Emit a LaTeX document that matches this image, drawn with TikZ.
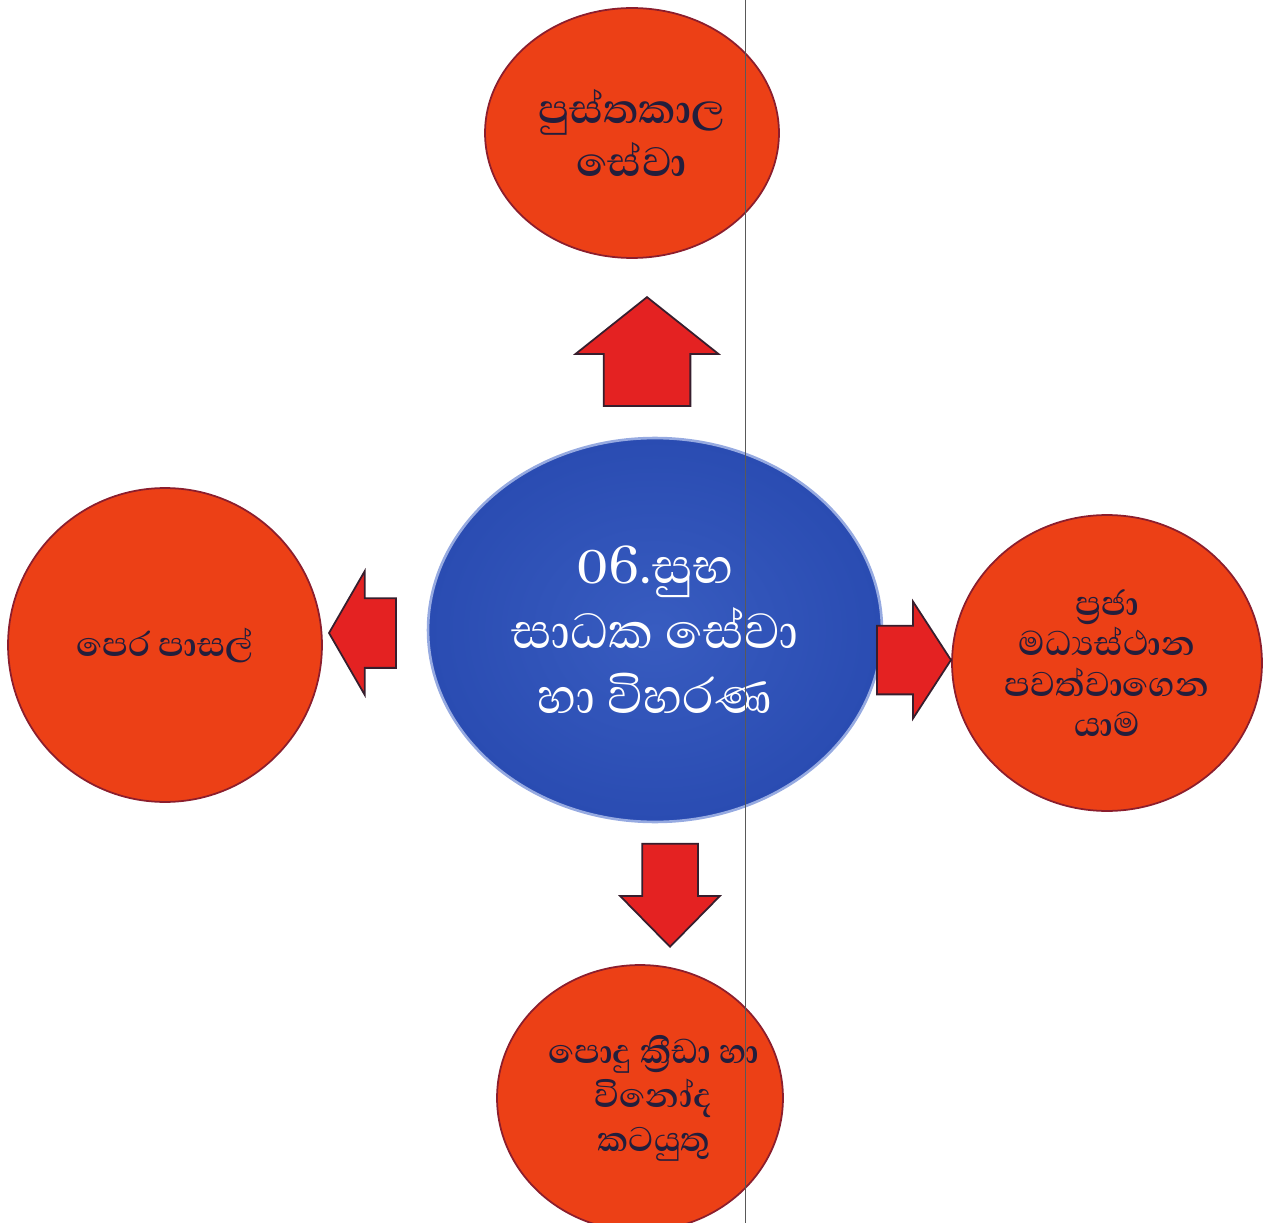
\documentclass[tikz,border=0pt]{standalone}
\usepackage{fontspec}
\usepackage{xcolor}
\usepackage{tikz}
\usetikzlibrary{shapes.geometric,shapes.arrows}
\newfontfamily\sinfont[Script=Sinhala]{Abhaya Libre}
\definecolor{circred}{RGB}{236,64,22}
\definecolor{circedge}{RGB}{140,30,45}
\definecolor{arrred}{RGB}{228,34,34}
\definecolor{arredge}{RGB}{55,30,45}
\definecolor{ballblue}{RGB}{42,76,178}
\definecolor{balllight}{RGB}{56,92,192}
\definecolor{ballrim}{RGB}{150,170,225}
\definecolor{inkdark}{RGB}{35,30,60}
\tikzset{
    redcirc/.style={ellipse, draw=circedge, line width=1pt, fill=circred, inner sep=0pt},
    circtext/.style={align=center, text=inkdark, inner sep=0pt},
    blockarrow/.style={single arrow, draw=arredge, line width=1pt, fill=arrred,
        inner sep=0pt, single arrow head indent=0pt}
}
\begin{document}
\begin{tikzpicture}[x=0.02cm, y=-0.02cm]
    \useasboundingbox (0,0) rectangle (1265,1223);

    %BULATAN TENGAH
    \node[ellipse, minimum width=9.08cm, minimum height=7.68cm, inner sep=0pt,
        inner color=balllight, outer color=ballblue, draw=ballrim, line width=1.5pt]
        (center) at (655,630) {};
    \node[align=center, text=white, font=\sinfont\fontsize{36}{37}\selectfont]
        (centerText) at (center) {06.සුභ\\සාධක සේවා\\හා විහරණ};

    %BULATAN MERAH
    \node[redcirc, minimum width=5.88cm, minimum height=5.0cm] (library) at (632,133) {};
    \node[circtext, font=\sinfont\bfseries\fontsize{30}{30}\selectfont]
        (libraryText) at (library) {පුස්තකාල\\සේවා};

    \node[redcirc, minimum width=6.28cm, minimum height=6.28cm] (preschool) at (165,645) {};
    \node[circtext, font=\sinfont\bfseries\fontsize{25}{30}\selectfont]
        (preschoolText) at (preschool) {පෙර පාසල්};

    \node[redcirc, minimum width=6.2cm, minimum height=5.92cm] (community) at (1107,663) {};
    \node[circtext, font=\sinfont\bfseries\fontsize{25}{23}\selectfont]
        (communityText) at (community) {ප්‍රජා\\මධ්‍යස්ථාන\\පවත්වාගෙන\\යාම};

    \node[redcirc, minimum width=5.72cm, minimum height=5.32cm] (sports) at (640,1098) {};
    \node[circtext, font=\sinfont\bfseries\fontsize{25}{25}\selectfont]
        (sportsText) at (654,1098) {පොදු ක්‍රීඩා හා\\විනෝද\\කටයුතු};

    %PANAH
    \node[blockarrow, shape border rotate=90, anchor=tip, minimum height=2.18cm, inner xsep=0.85cm,
        single arrow head extend=0.56cm, single arrow tip angle=103] (toLibrary) at (647,296) {};
    \node[blockarrow, shape border rotate=180, anchor=tip, minimum height=1.34cm, inner ysep=0.68cm,
        single arrow head extend=0.54cm, single arrow tip angle=120] (toPreschool) at (328,633) {};
    \node[blockarrow, anchor=tip, minimum height=1.48cm, inner ysep=0.67cm,
        single arrow head extend=0.48cm, single arrow tip angle=114] (toCommunity) at (952,660) {};
    \node[blockarrow, shape border rotate=270, anchor=tip, minimum height=2.06cm, inner xsep=0.54cm,
        single arrow head extend=0.44cm, single arrow tip angle=89] (toSports) at (670,948) {};

    %GARIS
    \draw[gray!70!black, line width=0.5pt] (745,0) -- (745,1223);

\end{tikzpicture}
\end{document}
